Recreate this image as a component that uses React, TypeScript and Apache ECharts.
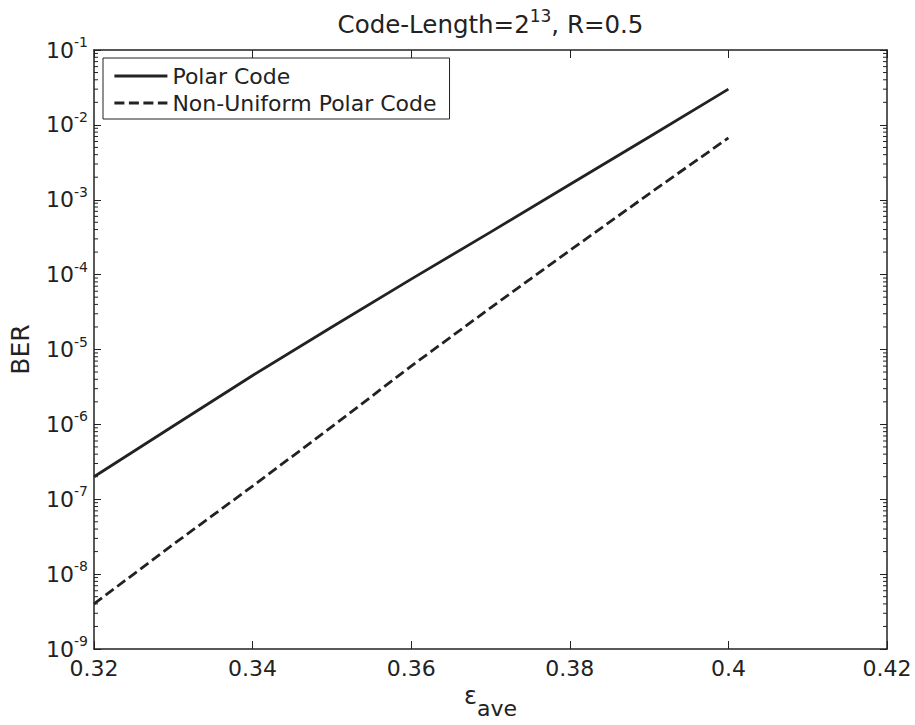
import React, { useEffect, useRef } from 'react';
import * as echarts from 'echarts';

// ---- data ----
const epsilonAve = [0.32, 0.33, 0.34, 0.35, 0.36, 0.37, 0.38, 0.39, 0.4];
const polarCodeBER = [2.0e-7, 9.5e-7, 4.5e-6, 2.0e-5, 8.7e-5, 3.7e-4, 1.6e-3, 6.9e-3, 3.0e-2];
const nonUniformPolarBER = [4.0e-9, 2.5e-8, 1.5e-7, 9.3e-7, 6.0e-6, 3.6e-5, 2.1e-4, 1.2e-3, 6.7e-3];
const seriesNames = ['Polar Code', 'Non-Uniform Polar Code'];
const xMin = 0.32;
const xMax = 0.42;
const xStep = 0.02;
const yMinExp = -9;
const yMaxExp = -1;

const FONT = 'DejaVu Sans';
const INK = '#222';
const LINE_W = 2.8;
const DASH = [10, 4.5];

export default function App() {
  const ref = useRef<HTMLDivElement>(null);

  useEffect(() => {
    if (!ref.current) return;
    const chart = echarts.init(ref.current, null, { renderer: 'svg' });

    const minorTicks: number[][] = [];
    for (let e = yMinExp; e < yMaxExp; e++) {
      for (let m = 2; m <= 9; m++) minorTicks.push([xMin, m * Math.pow(10, e)]);
    }

    const axisLine = { show: true, onZero: false, lineStyle: { color: INK, width: 1.5 } };

    chart.setOption({
      animation: false,
      backgroundColor: '#fff',
      title: {
        text: '{a|Code-Length=2}{s|13}{a|, R=0.5}',
        left: 490.5,
        top: 7,
        padding: 0,
        textAlign: 'center',
        textStyle: {
          fontWeight: 'normal',
          rich: {
            a: { fontFamily: FONT, fontSize: 24.5, lineHeight: 34, color: INK, fontWeight: 'normal' },
            s: { fontFamily: FONT, fontSize: 17, lineHeight: 14, verticalAlign: 'top', color: INK, fontWeight: 'normal' },
          },
        },
      },
      grid: { left: 94, right: 28, top: 50, bottom: 76 },
      legend: {
        data: [
          { name: seriesNames[0], lineStyle: { width: LINE_W, type: 'solid', color: INK } },
          { name: seriesNames[1], lineStyle: { width: LINE_W, type: DASH, color: INK } },
        ],
        orient: 'vertical',
        left: 103,
        top: 58,
        padding: [7, 13, 5, 10],
        itemGap: 5,
        itemWidth: 53,
        itemHeight: 14,
        borderColor: INK,
        borderWidth: 1,
        borderRadius: 0,
        backgroundColor: '#fff',
        selectedMode: false,
        itemStyle: { opacity: 0 },
        lineStyle: { width: LINE_W, color: INK },
        textStyle: { fontFamily: FONT, fontSize: 22, lineHeight: 22, color: INK },
      },
      xAxis: [
        {
          type: 'value',
          min: xMin,
          max: xMax,
          interval: xStep,
          position: 'bottom',
          axisLine,
          axisTick: { show: true, inside: true, length: 8, lineStyle: { color: INK, width: 1 } },
          axisLabel: { margin: 8, fontFamily: FONT, fontSize: 22, color: INK },
          splitLine: { show: false },
          name: '{e|ε}{s|ave}',
          nameLocation: 'middle',
          nameGap: 34,
          nameTextStyle: {
            rich: {
              e: { fontFamily: FONT, fontSize: 24, lineHeight: 24, verticalAlign: 'top', color: INK },
              s: { fontFamily: FONT, fontSize: 22, lineHeight: 50, color: INK },
            },
          },
        },
        {
          type: 'value',
          min: xMin,
          max: xMax,
          interval: xStep,
          position: 'top',
          axisLine,
          axisTick: { show: true, inside: true, length: 8, lineStyle: { color: INK, width: 1 } },
          axisLabel: { show: false },
          splitLine: { show: false },
        },
      ],
      yAxis: [
        {
          type: 'log',
          logBase: 10,
          min: Math.pow(10, yMinExp),
          max: Math.pow(10, yMaxExp),
          interval: 1,
          position: 'left',
          axisLine,
          axisTick: { show: true, inside: true, length: 7, lineStyle: { color: INK, width: 1 } },
          axisLabel: {
            margin: 6,
            formatter: (v: number) => `{b|10}{s|${Math.round(Math.log10(v))}}`,
            rich: {
              b: { fontFamily: FONT, fontSize: 22, lineHeight: 30, color: INK },
              s: { fontFamily: FONT, fontSize: 14, lineHeight: 14, verticalAlign: 'top', color: INK },
            },
          },
          splitLine: { show: false },
          name: 'BER',
          nameLocation: 'middle',
          nameRotate: 90,
          nameGap: 61,
          nameTextStyle: { fontFamily: FONT, fontSize: 25, color: INK },
        },
        {
          type: 'log',
          logBase: 10,
          min: Math.pow(10, yMinExp),
          max: Math.pow(10, yMaxExp),
          interval: 1,
          position: 'right',
          axisLine,
          axisTick: { show: true, inside: true, length: 7, lineStyle: { color: INK, width: 1 } },
          axisLabel: { show: false },
          splitLine: { show: false },
        },
      ],
      series: [
        {
          name: seriesNames[0],
          type: 'line',
          xAxisIndex: 0,
          yAxisIndex: 0,
          data: epsilonAve.map((x, i) => [x, polarCodeBER[i]]),
          symbol: 'none',
          lineStyle: { color: INK, width: LINE_W, type: 'solid' },
          itemStyle: { color: INK },
        },
        {
          name: seriesNames[1],
          type: 'line',
          xAxisIndex: 0,
          yAxisIndex: 0,
          data: epsilonAve.map((x, i) => [x, nonUniformPolarBER[i]]),
          symbol: 'none',
          lineStyle: { color: INK, width: LINE_W, type: DASH },
          itemStyle: { color: INK },
        },
        {
          name: 'minorTicks',
          type: 'custom',
          xAxisIndex: 0,
          yAxisIndex: 0,
          silent: true,
          data: minorTicks,
          encode: { x: 0, y: 1 },
          renderItem: (params: any, api: any) => {
            const y = api.coord([api.value(0), api.value(1)])[1];
            const cs = params.coordSys;
            return {
              type: 'group',
              children: [
                { type: 'line', shape: { x1: cs.x, y1: y, x2: cs.x + 4, y2: y }, style: { stroke: INK, lineWidth: 1 } },
                {
                  type: 'line',
                  shape: { x1: cs.x + cs.width - 4, y1: y, x2: cs.x + cs.width, y2: y },
                  style: { stroke: INK, lineWidth: 1 },
                },
              ],
            };
          },
        },
      ],
    });

    return () => chart.dispose();
  }, []);

  return (
    <div
      ref={ref}
      style={{ position: 'fixed', left: 0, top: 0, width: 915, height: 725, background: '#fff' }}
    />
  );
}
